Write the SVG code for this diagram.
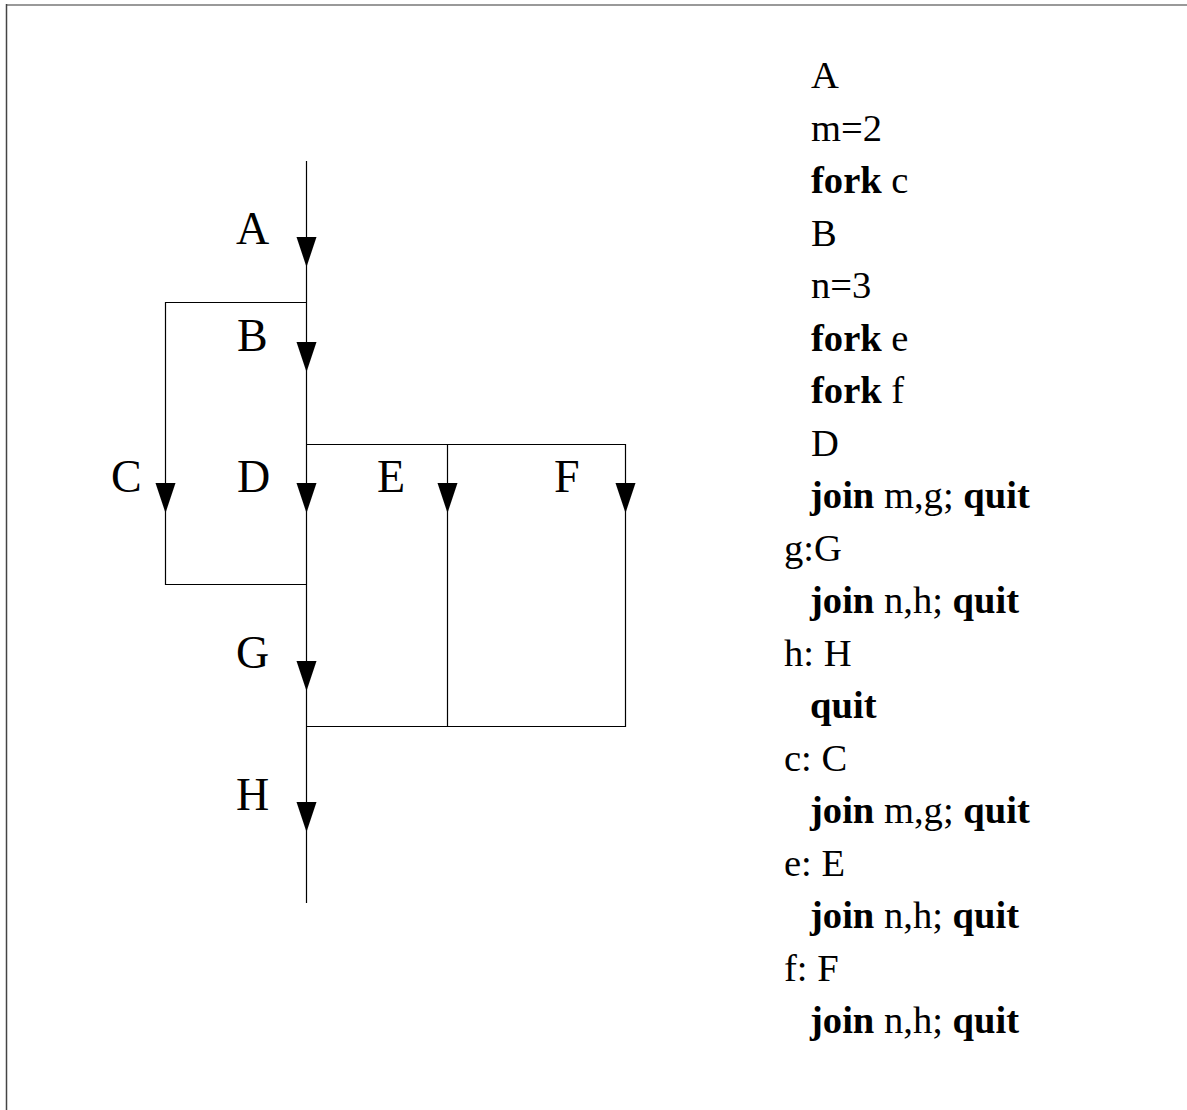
<svg xmlns="http://www.w3.org/2000/svg" width="1187" height="1110" viewBox="0 0 1187 1110">
  <style>
    .lbl { font-family: "Liberation Serif", "Times New Roman", serif; font-size: 46px; fill: #000; }
    .code { font-family: "Liberation Serif", "Times New Roman", serif; font-size: 38.6px; fill: #000; }
    .kw { font-weight: bold; }
    .wire { stroke: #000; stroke-width: 1.2; fill: none; }
    .head { fill: #000; }
  </style>
  <defs>
    <!-- downward arrowhead, tip at the origin -->
    <path id="arrow" d="M-10,-30 L10,-30 L0,0 Z"/>
  </defs>

  <rect x="0" y="0" width="1187" height="1110" fill="#fff"/>

  <!-- frame -->
  <line x1="6" y1="5" x2="1187" y2="5" stroke="#777" stroke-width="1.5"/>
  <line x1="6.5" y1="4" x2="6.5" y2="1110" stroke="#444" stroke-width="1.5"/>

  <!-- flow lines -->
  <g id="connectors">
    <line class="wire" x1="306.5" y1="161" x2="306.5" y2="903"/>
    <!-- fork/join for C -->
    <polyline class="wire" points="306.5,302.5 165.5,302.5 165.5,584.5 306.5,584.5"/>
    <!-- fork/join for E and F -->
    <polyline class="wire" points="306.5,444.5 625.5,444.5 625.5,726.5 306.5,726.5"/>
    <line class="wire" x1="447.5" y1="444.5" x2="447.5" y2="726.5"/>
    <use href="#arrow" class="head" x="306.5" y="267"/>
    <use href="#arrow" class="head" x="306.5" y="372"/>
    <use href="#arrow" class="head" x="165.5" y="513"/>
    <use href="#arrow" class="head" x="306.5" y="513"/>
    <use href="#arrow" class="head" x="447.5" y="513"/>
    <use href="#arrow" class="head" x="625.5" y="513"/>
    <use href="#arrow" class="head" x="306.5" y="691"/>
    <use href="#arrow" class="head" x="306.5" y="832"/>
  </g>

  <!-- segment labels -->
  <g id="node-A"><text class="lbl" x="236" y="244">A</text></g>
  <g id="node-B"><text class="lbl" x="237" y="351">B</text></g>
  <g id="node-C"><text class="lbl" x="111" y="492">C</text></g>
  <g id="node-D"><text class="lbl" x="237" y="492">D</text></g>
  <g id="node-E"><text class="lbl" x="377" y="492">E</text></g>
  <g id="node-F"><text class="lbl" x="554" y="492">F</text></g>
  <g id="node-G"><text class="lbl" x="236" y="668">G</text></g>
  <g id="node-H"><text class="lbl" x="236" y="810">H</text></g>

  <!-- program listing -->
  <g id="listing" class="code">
    <text x="811" y="88">A</text>
    <text x="811" y="140.5">m=2</text>
    <text x="811" y="193"><tspan class="kw">fork</tspan> c</text>
    <text x="811" y="245.5">B</text>
    <text x="811" y="298">n=3</text>
    <text x="811" y="350.5"><tspan class="kw">fork</tspan> e</text>
    <text x="811" y="403"><tspan class="kw">fork</tspan> f</text>
    <text x="811" y="455.5">D</text>
    <text x="810" y="508"><tspan class="kw">join</tspan> m,g; <tspan class="kw">quit</tspan></text>
    <text x="784" y="560.5">g:G</text>
    <text x="810" y="613"><tspan class="kw">join</tspan> n,h; <tspan class="kw">quit</tspan></text>
    <text x="784" y="665.5">h: H</text>
    <text x="810" y="718"><tspan class="kw">quit</tspan></text>
    <text x="784" y="770.5">c: C</text>
    <text x="810" y="823"><tspan class="kw">join</tspan> m,g; <tspan class="kw">quit</tspan></text>
    <text x="784" y="875.5">e: E</text>
    <text x="810" y="928"><tspan class="kw">join</tspan> n,h; <tspan class="kw">quit</tspan></text>
    <text x="784" y="980.5">f: F</text>
    <text x="810" y="1033"><tspan class="kw">join</tspan> n,h; <tspan class="kw">quit</tspan></text>
  </g>
</svg>
